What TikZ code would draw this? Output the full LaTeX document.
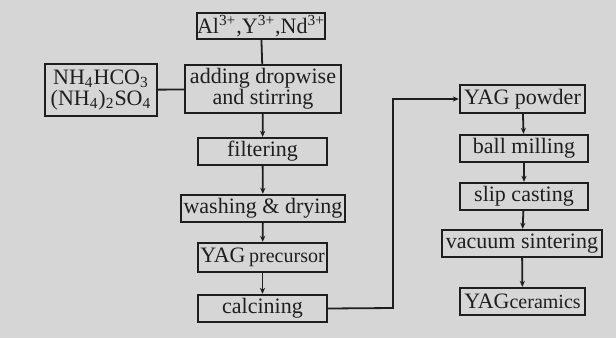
\documentclass[tikz,border=0pt]{standalone}
\usepackage{fontspec}
\setmainfont{Liberation Serif}
\usetikzlibrary{arrows.meta}
\definecolor{paper}{RGB}{214,214,214}
\definecolor{ink}{RGB}{30,30,30}
\tikzset{
  stepbox/.style={draw=ink, line width=1.2pt, fill=paper, inner sep=0pt, minimum height=13.5pt, align=center},
  flow/.style={draw=ink, line width=0.9pt, -{Stealth[length=3pt,width=2.6pt]}},
  link/.style={draw=ink, line width=0.9pt},
}

\begin{document}
\begin{tikzpicture}[x=0.5pt, y=-0.5pt, every node/.style={font=\fontsize{11}{10.5}\selectfont, text=ink}]
	\fill[paper] (0,0) rectangle (616,338);
	\useasboundingbox (0,0) rectangle (616,338);
	% precipitation route
	\node[stepbox, minimum width=64pt, minimum height=13pt] (ions) at (261,26) {Al\textsuperscript{3+},Y\textsuperscript{3+},Nd\textsuperscript{3+}};
	\node[stepbox, minimum width=78pt, minimum height=24pt] (add) at (263,89) {adding dropwise\\and stirring};
	\node[stepbox, minimum width=56pt, minimum height=26pt] (salts) at (101,90) {NH\textsubscript{4}HCO\textsubscript{3}\\(NH\textsubscript{4})\textsubscript{2}SO\textsubscript{4}};
	\node[stepbox, minimum width=64.5pt] (filt) at (262.5,151.5) {filtering};
	\node[stepbox, minimum width=82pt] (wash) at (263,208.5) {washing \& drying};
	\node[stepbox, minimum width=64.5pt, minimum height=14.5pt] (prec) at (262.5,257.5) {YAG\,{\fontsize{10}{10}\selectfont precursor}};
	\node[stepbox, minimum width=64.5pt] (calc) at (262.5,308.5) {calcining};
	% ceramic route
	\node[stepbox, minimum width=62.5pt, minimum height=14pt] (powder) at (522.5,99) {YAG powder};
	\node[stepbox, minimum width=64pt] (mill) at (524,148.5) {ball milling};
	\node[stepbox, minimum width=64pt] (slip) at (524,196.5) {slip casting};
	\node[stepbox, minimum width=80pt] (vac) at (522,243.5) {vacuum sintering};
	\node[stepbox, minimum width=62.5pt] (cer) at (522.5,301.5) {YAG{\fontsize{10}{10}\selectfont ceramics}};
	\coordinate (turn) at (393,308);
	\draw[link] (ions) -- (add);
	\draw[link] (salts) -- (add);
	\foreach \a/\b in {add/filt, filt/wash, wash/prec, prec/calc, powder/mill, mill/slip, slip/vac, vac/cer}
		\draw[flow] (\a) -- (\b);
	\draw[flow] (calc.east) -- (turn) |- (powder.west);
\end{tikzpicture}
\end{document}
